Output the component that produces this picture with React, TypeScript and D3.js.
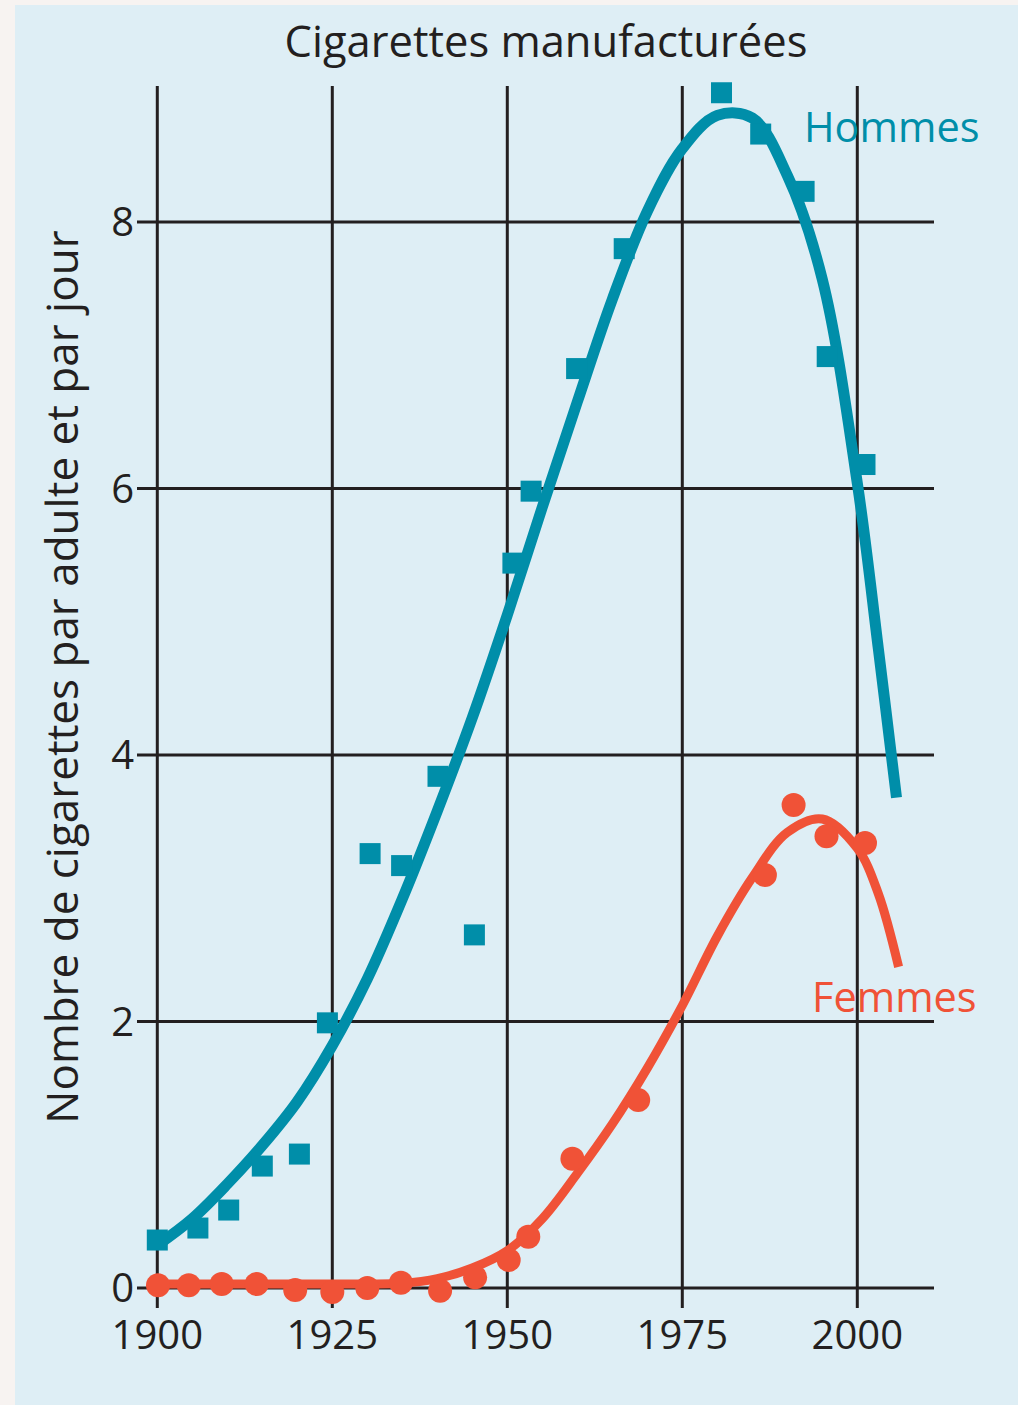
import React from "react";
import * as d3 from "d3";

const title = "Cigarettes manufacturées";
const yAxisLabel = "Nombre de cigarettes par adulte et par jour";
const xTicks = [1900, 1925, 1950, 1975, 2000];
const yTicks = [0, 2, 4, 6, 8];

// Hommes: observed points (year, cigarettes/adult/day)
const hommesYears = [1900, 1905.8, 1910.2, 1915, 1920.3, 1924.3, 1930.4, 1934.9, 1940.1, 1945.3, 1950.8, 1953.4, 1959.9, 1966.7, 1980.6, 1986.2, 1992.4, 1995.7, 2001.1];
const hommesValues = [0.36, 0.45, 0.585, 0.915, 1.005, 1.99, 3.26, 3.17, 3.84, 2.65, 5.44, 5.98, 6.9, 7.8, 8.97, 8.66, 8.23, 6.99, 6.18];

// Hommes: fitted trend curve
const hommesCurveYears = [1900, 1905, 1910, 1915, 1920, 1925, 1930, 1935, 1940, 1945, 1950, 1955, 1960, 1965, 1970, 1975, 1980, 1985, 1990, 1995, 2000, 2003, 2005.6];
const hommesCurveValues = [0.32, 0.52, 0.78, 1.07, 1.4, 1.82, 2.32, 2.92, 3.58, 4.28, 5.05, 5.86, 6.65, 7.42, 8.08, 8.55, 8.8, 8.78, 8.35, 7.57, 6.04, 4.8, 3.68];

// Femmes: observed points
const femmesYears = [1900.1, 1904.5, 1909.2, 1914.2, 1919.7, 1925, 1930, 1934.8, 1940.4, 1945.4, 1950.2, 1953, 1959.3, 1968.7, 1986.8, 1990.9, 1995.6, 2001.1];
const femmesValues = [0.02, 0.02, 0.03, 0.03, -0.015, -0.03, 0.0, 0.04, -0.02, 0.08, 0.21, 0.385, 0.97, 1.41, 3.1, 3.625, 3.39, 3.34];

// Femmes: fitted trend curve
const femmesCurveYears = [1900, 1905, 1910, 1915, 1920, 1925, 1930, 1935, 1940, 1945, 1950, 1955, 1960, 1965, 1970, 1975, 1980, 1985, 1990, 1995, 2000, 2003, 2005.9];
const femmesCurveValues = [0.03, 0.03, 0.03, 0.03, 0.03, 0.03, 0.03, 0.035, 0.07, 0.15, 0.28, 0.52, 0.86, 1.23, 1.65, 2.12, 2.64, 3.08, 3.42, 3.52, 3.3, 2.96, 2.41];

const TEAL = "#008ea9";
const RED = "#f05237";
const INK = "#231f20";
const FONT = "'Open Sans', 'Noto Sans', sans-serif";

export default function App() {
  const W = 1018;
  const H = 1405;
  const x = d3.scaleLinear().domain([1900, 2000]).range([157.3, 857.3]);
  const y = d3.scaleLinear().domain([0, 8]).range([1288, 222]);
  const gridLeft = 137;
  const gridRight = 934;
  const gridTop = 86;
  const tickBottom = 1308;

  const line = d3
    .line<[number, number]>()
    .x((d) => x(d[0]))
    .y((d) => y(d[1]))
    .curve(d3.curveCatmullRom.alpha(0.5));

  const hCurve = hommesCurveYears.map((yr, i) => [yr, hommesCurveValues[i]] as [number, number]);
  const fCurve = femmesCurveYears.map((yr, i) => [yr, femmesCurveValues[i]] as [number, number]);
  const sq = 21;

  return (
    <svg width={W} height={H} style={{ position: "absolute", left: 0, top: 0 }} fontFamily={FONT}>
      <rect x={0} y={0} width={W} height={H} fill="#f7f3f1" />
      <rect x={15} y={5} width={W - 15} height={H - 5} fill="#deeef5" />
      <text x={546} y={57} textAnchor="middle" fontSize={43.5} fill={INK}>
        {title}
      </text>
      <text
        transform={`translate(78, ${677}) rotate(-90)`}
        textAnchor="middle"
        fontSize={44}
        fill={INK}
      >
        {yAxisLabel}
      </text>
      <g stroke={INK} strokeWidth={3}>
        {xTicks.map((t) => (
          <line key={"v" + t} x1={x(t)} x2={x(t)} y1={gridTop} y2={tickBottom} />
        ))}
        {yTicks.map((t) => (
          <line key={"h" + t} x1={gridLeft} x2={gridRight} y1={y(t)} y2={y(t)} />
        ))}
      </g>
      {yTicks.map((t) => (
        <text key={"yl" + t} x={134} y={y(t) + 14} textAnchor="end" fontSize={40} fill={INK}>
          {t}
        </text>
      ))}
      {xTicks.map((t) => (
        <text key={"xl" + t} x={x(t)} y={1349} textAnchor="middle" fontSize={40} fill={INK}>
          {t}
        </text>
      ))}
      <path d={line(fCurve) || ""} fill="none" stroke={RED} strokeWidth={9} strokeLinecap="butt" />
      {femmesYears.map((yr, i) => (
        <circle key={"f" + i} cx={x(yr)} cy={y(femmesValues[i])} r={12} fill={RED} />
      ))}
      <path d={line(hCurve) || ""} fill="none" stroke={TEAL} strokeWidth={11} strokeLinecap="butt" />
      {hommesYears.map((yr, i) => (
        <rect key={"h" + i} x={x(yr) - sq / 2} y={y(hommesValues[i]) - sq / 2} width={sq} height={sq} fill={TEAL} />
      ))}
      <text x={804} y={142} fontSize={41.5} fill={TEAL}>
        Hommes
      </text>
      <text x={812} y={1011.5} fontSize={41.5} fill={RED}>
        Femmes
      </text>
    </svg>
  );
}
